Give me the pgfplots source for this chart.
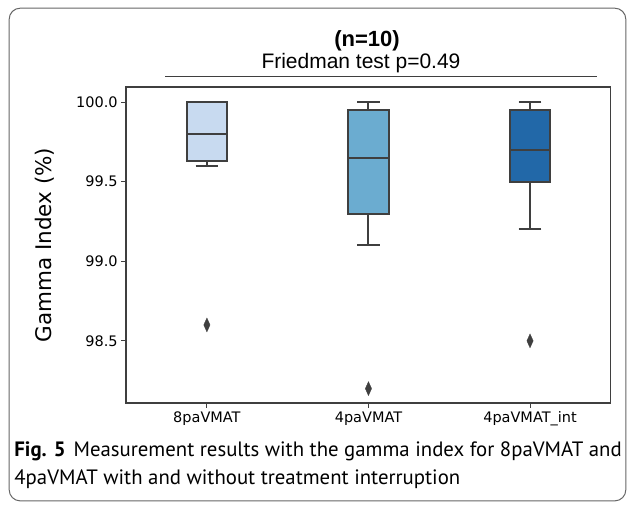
\documentclass[border=0pt]{standalone}
\usepackage{fontspec}
\usepackage{pgfplots}
\pgfplotsset{compat=1.18}
\usepgfplotslibrary{statistics}
\setmainfont{DejaVu Sans}
\newfontfamily\arialf{Liberation Sans}
\newfontfamily\capf{PT Sans}
\definecolor{edge}{RGB}{63,63,63}
\definecolor{cA}{RGB}{200,218,240}
\definecolor{cB}{RGB}{107,172,208}
\definecolor{cC}{RGB}{34,104,168}
\begin{document}
\begin{tikzpicture}
\draw[white] (0pt,0pt) rectangle (635pt,511pt);
\draw[gray!80!black, line width=1pt, rounded corners=11pt] (9pt,10pt) rectangle (626pt,503pt);
\node[font=\arialf\bfseries\fontsize{22}{24}\selectfont] at (367pt,470pt) {(n=10)};
\node[font=\arialf\fontsize{21}{24}\selectfont] at (361pt,448pt) {Friedman test p=0.49};
\draw[edge, line width=1pt] (165pt,435pt) -- (597pt,435pt);
\begin{axis}[
  at={(126pt,108pt)}, anchor=south west,
  scale only axis, width=485pt, height=316pt,
  xmin=-0.5, xmax=2.5, ymin=98.11, ymax=100.094,
  xtick={0,1,2}, xticklabels={8paVMAT,4paVMAT,4paVMAT\_int},
  ytick={98.5,99,99.5,100},
  yticklabel style={/pgf/number format/fixed, /pgf/number format/precision=1, /pgf/number format/zerofill},
  /pgf/number format/assume math mode=true,
  tick label style={font=\fontsize{14.5}{16}\selectfont, text=black},
  tick align=outside, xtick pos=bottom, ytick pos=left,
  major tick length=5pt,
  every tick/.style={edge, line width=1pt},
  axis line style={edge, line width=1.3pt},
  ylabel={Gamma Index (\%)},
  ylabel style={font=\fontsize{21.5}{24}\selectfont, at={(axis description cs:-0.167,0.5)}, anchor=center},
  boxplot/draw direction=y,
  boxplot/box extend=0.25,
]
\addplot+[boxplot prepared={draw position=0, lower whisker=99.6, lower quartile=99.63, median=99.8, upper quartile=100.0, upper whisker=100.0, whisker extend=0.14},
  draw=edge, fill=cA, line width=2pt, solid, mark=none] coordinates {};
\addplot+[boxplot prepared={draw position=1, lower whisker=99.1, lower quartile=99.3, median=99.65, upper quartile=99.95, upper whisker=100.0, whisker extend=0.14},
  draw=edge, fill=cB, line width=2pt, solid, mark=none] coordinates {};
\addplot+[boxplot prepared={draw position=2, lower whisker=99.2, lower quartile=99.5, median=99.7, upper quartile=99.95, upper whisker=100.0, whisker extend=0.14},
  draw=edge, fill=cC, line width=2pt, solid, mark=none] coordinates {};
\addplot[only marks, mark=diamond*, mark size=7pt, mark options={fill=edge, draw=edge, line width=0.3pt, xscale=0.6}]
  coordinates {(0,98.6) (1,98.2) (2,98.5)};
\end{axis}
\node[anchor=base west, font=\capf\fontsize{20.8}{24}\selectfont, inner sep=0pt] at (14pt,54pt) {\textbf{Fig. 5}\hspace{8pt}Measurement results with the gamma index for 8paVMAT and};
\node[anchor=base west, font=\capf\fontsize{20.8}{24}\selectfont, inner sep=0pt] at (14pt,26pt) {4paVMAT with and without treatment interruption};
\end{tikzpicture}
\end{document}
